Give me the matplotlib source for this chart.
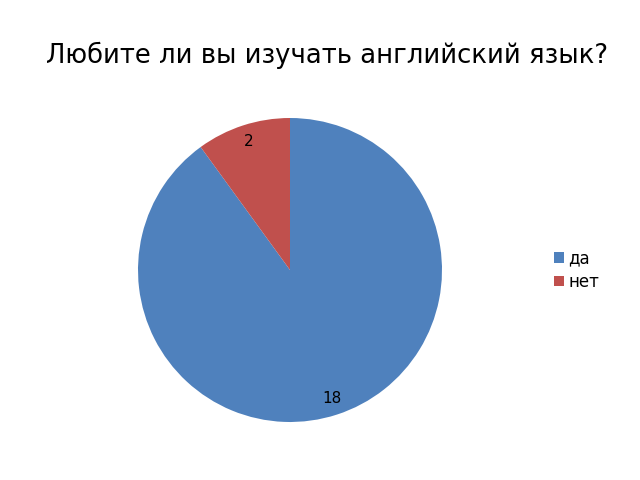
import matplotlib
matplotlib.use("Agg")
import matplotlib.pyplot as plt

categories = ["да", "нет"]
values = [18, 2]
colors = ["#4F81BD", "#C0504D"]
title = "Любите ли вы изучать английский язык?"

fig = plt.figure(figsize=(6.4, 4.8), dpi=100)
fig.patch.set_facecolor("white")
cx, cy, r = 290, 270, 152
ax = fig.add_axes([(cx - r) / 640, (480 - cy - r) / 480, 2 * r / 640, 2 * r / 480])
wedges, texts = ax.pie(values, colors=colors, startangle=90, counterclock=False,
                       labels=[str(v) for v in values], labeldistance=0.89,
                       textprops=dict(fontsize=11, ha="center", va="center"))
ax.set_aspect("equal")
ax.set_xlim(-1, 1)
ax.set_ylim(-1, 1)

fig.text(327 / 640, 1 - 55 / 480, title, ha="center", va="center", fontsize=18.6,
         family="DejaVu Sans")

fig.legend(wedges, categories, loc="center left", bbox_to_anchor=(546 / 640, 1 - 270 / 480),
           frameon=False, fontsize=12, handlelength=0.6, handleheight=0.6,
           handletextpad=0.25, labelspacing=0.35, borderpad=0)

fig.savefig("out.png", dpi=100)
